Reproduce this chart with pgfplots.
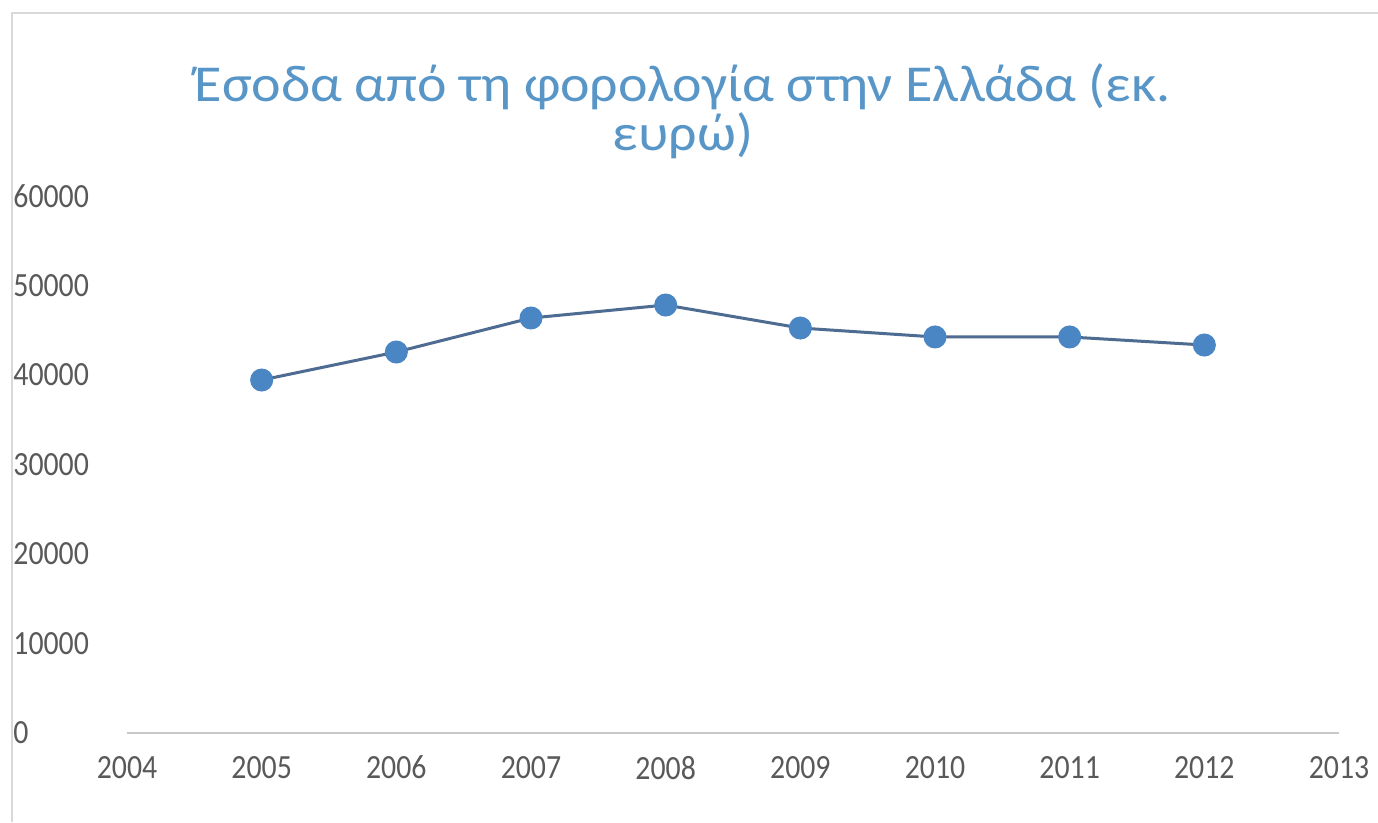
\documentclass[border=0pt]{standalone}
\usepackage{fontspec}
\setmainfont{Carlito}[FakeStretch=0.88]
\newfontfamily\titlefont{Carlito}[FakeStretch=1.08]
\usepackage{pgfplots}
\pgfplotsset{compat=1.18}
\definecolor{titleblue}{RGB}{88,150,200}
\definecolor{labelgray}{RGB}{89,89,89}
\definecolor{axisgray}{RGB}{200,200,200}
\definecolor{framegray}{RGB}{217,217,217}
\definecolor{linecol}{RGB}{78,108,145}
\definecolor{markcol}{RGB}{74,134,196}
\pgfplotstableread{
year value
2005 39440
2006 42570
2007 46370
2008 47820
2009 45250
2010 44250
2011 44250
2012 43350
}\revenue
\begin{document}
\begin{tikzpicture}[x=1bp,y=1bp]
\useasboundingbox (0,0) rectangle (689,411);
\fill[white] (0,0) rectangle (689,411);
\draw[framegray, line width=1.2bp] (6,0) -- (6,404.5) -- (689,404.5);
\node[text=titleblue, font=\titlefont\fontsize{26}{20.5}\selectfont, align=center, anchor=base, inner sep=0] at (341.5,336) {Έσοδα από τη φορολογία στην Ελλάδα (εκ.\\ευρώ)};
\begin{axis}[
  at={(63.5bp,44.5bp)}, anchor=south west,
  scale only axis, width=606bp, height=268.5bp,
  xmin=2004, xmax=2013, ymin=0, ymax=60000,
  axis x line=bottom, axis y line=left,
  x axis line style={-, draw=axisgray, line width=1bp},
  y axis line style={-, draw=none},
  xtick={2004,2005,...,2013}, ytick={0,10000,...,60000},
  major tick length=0pt,
  scaled y ticks=false,
  /pgf/number format/.cd, 1000 sep={}, assume math mode=true, /pgfplots/.cd,
  tick label style={font=\fontsize{17}{17}\selectfont, text=labelgray},
  yticklabel style={anchor=west, inner sep=0pt, xshift=-57bp},
  xticklabel style={yshift=-8bp},
  clip=false,
]
\addplot[linecol, line width=1.5bp, mark=*, mark size=5bp,
  mark options={fill=markcol, draw=markcol}] table[x=year, y=value] {\revenue};
\end{axis}
\end{tikzpicture}
\end{document}
